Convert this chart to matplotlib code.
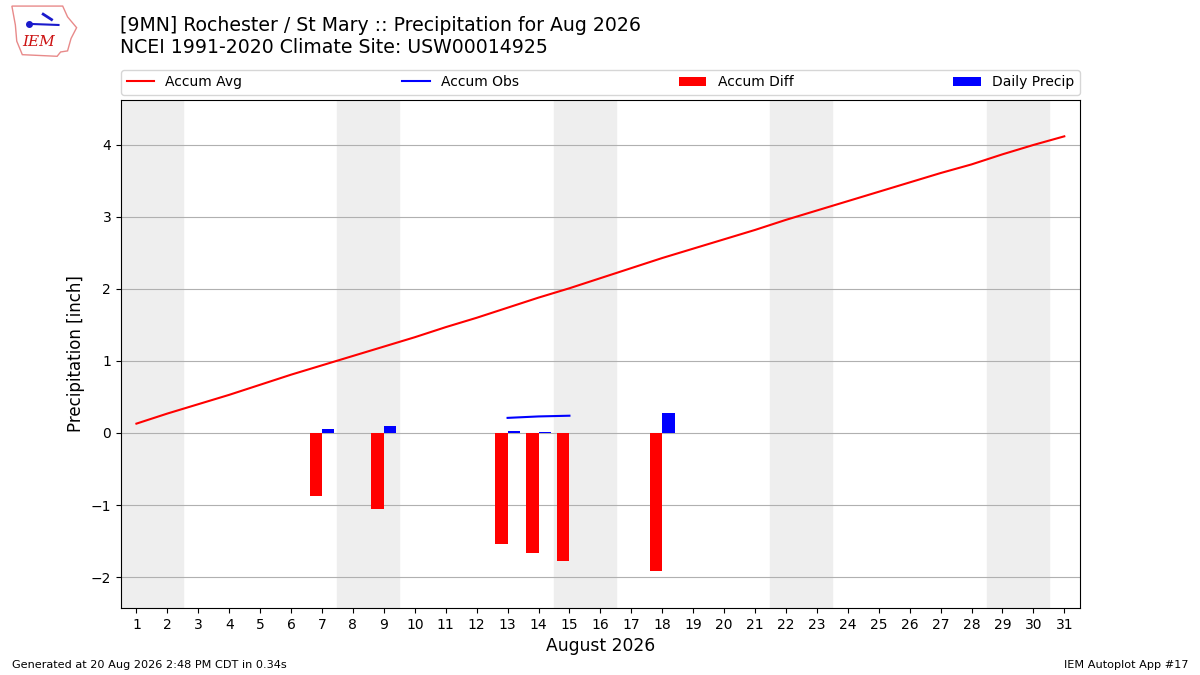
"""
Daily precipitation and accumulated departure for one climate site, August 2026.
"""

import matplotlib
matplotlib.use("Agg")
import matplotlib.pyplot as plt
from matplotlib.patches import Polygon

# ----- Data -----

days = list(range(1, 32))
accum_avg = [0.13, 0.27, 0.40, 0.53, 0.67, 0.81, 0.94, 1.07, 1.20, 1.33,
             1.47, 1.60, 1.74, 1.88, 2.01, 2.15, 2.29, 2.43, 2.56, 2.69,
             2.82, 2.96, 3.09, 3.22, 3.35, 3.48, 3.61, 3.73, 3.87, 4.00, 4.12]

obs_days = [13, 14, 15]
accum_obs = [0.21, 0.23, 0.24]

diff_days = [7, 9, 13, 14, 15, 18]
accum_diff = [-0.88, -1.05, -1.54, -1.67, -1.78, -1.92]

precip_days = [7, 9, 13, 14, 18]
daily_precip = [0.055, 0.10, 0.03, 0.015, 0.28]

weekends = [(1, 2), (8, 9), (15, 16), (22, 23), (29, 30)]

title = ("[9MN] Rochester / St Mary :: Precipitation for Aug 2026\n"
         "NCEI 1991-2020 Climate Site: USW00014925")

# ----- Plot -----

fig = plt.figure(figsize=(12, 6.75), dpi=100)
ax = fig.add_axes([0.1008, 0.0993, 0.799, 0.7526])

for start, end in weekends:
    ax.axvspan(start - 0.5, end + 0.5, color="#eeeeee", zorder=0)

ax.plot(days, accum_avg, color="r", lw=1.5, label="Accum Avg", zorder=3)
ax.plot(obs_days, accum_obs, color="b", lw=1.5, label="Accum Obs", zorder=3)
ax.bar([d - 0.2 for d in diff_days], accum_diff, width=0.4, color="r",
       label="Accum Diff", zorder=2)
ax.bar([d + 0.2 for d in precip_days], daily_precip, width=0.4, color="b",
       label="Daily Precip", zorder=2)

ax.set_xlim(0.5, 31.5)
ax.set_ylim(-2.43, 4.625)
ax.set_xticks(days)
ax.grid(axis="y", color="#b0b0b0", zorder=1)
ax.set_axisbelow(True)
ax.set_ylabel("Precipitation [inch]", fontsize=12)
ax.set_xlabel("August 2026", fontsize=12.3)

ax.legend(bbox_to_anchor=(0, 1.01, 1, 0.05), loc="lower left", mode="expand",
          ncol=4, borderaxespad=0, fontsize=10)

fig.text(0.1, 0.977, title, fontsize=13.6, va="top", ha="left")
fig.text(0.01, 0.015, "Generated at 20 Aug 2026 2:48 PM CDT in 0.34s",
         fontsize=8.15, va="center")
fig.text(0.99, 0.015, "IEM Autoplot App #17", fontsize=8.15, va="center", ha="right")

# small IEM logo in the corner
logo = fig.add_axes([0.007, 0.915, 0.058, 0.08])
logo.set_xlim(0, 1); logo.set_ylim(0, 1); logo.axis("off")
outline = [(0.05, 0.95), (0.78, 0.95), (0.85, 0.75), (0.98, 0.55), (0.9, 0.35),
           (0.85, 0.12), (0.75, 0.1), (0.7, 0.02), (0.2, 0.05), (0.12, 0.3),
           (0.1, 0.6)]
logo.add_patch(Polygon(outline, closed=True, fill=False, ec="#e88a8a", lw=1))
logo.plot([0.3, 0.72], [0.62, 0.6], color="#1a1acc", lw=1.5)
logo.plot([0.3], [0.62], "o", color="#1a1acc", ms=4)
logo.plot([0.5, 0.62], [0.8, 0.7], color="#1a1acc", lw=2)
logo.text(0.2, 0.28, "IEM", color="#cc1111", fontsize=11, fontstyle="italic",
          family="serif", va="center")

fig.savefig("out.png", dpi=100)
